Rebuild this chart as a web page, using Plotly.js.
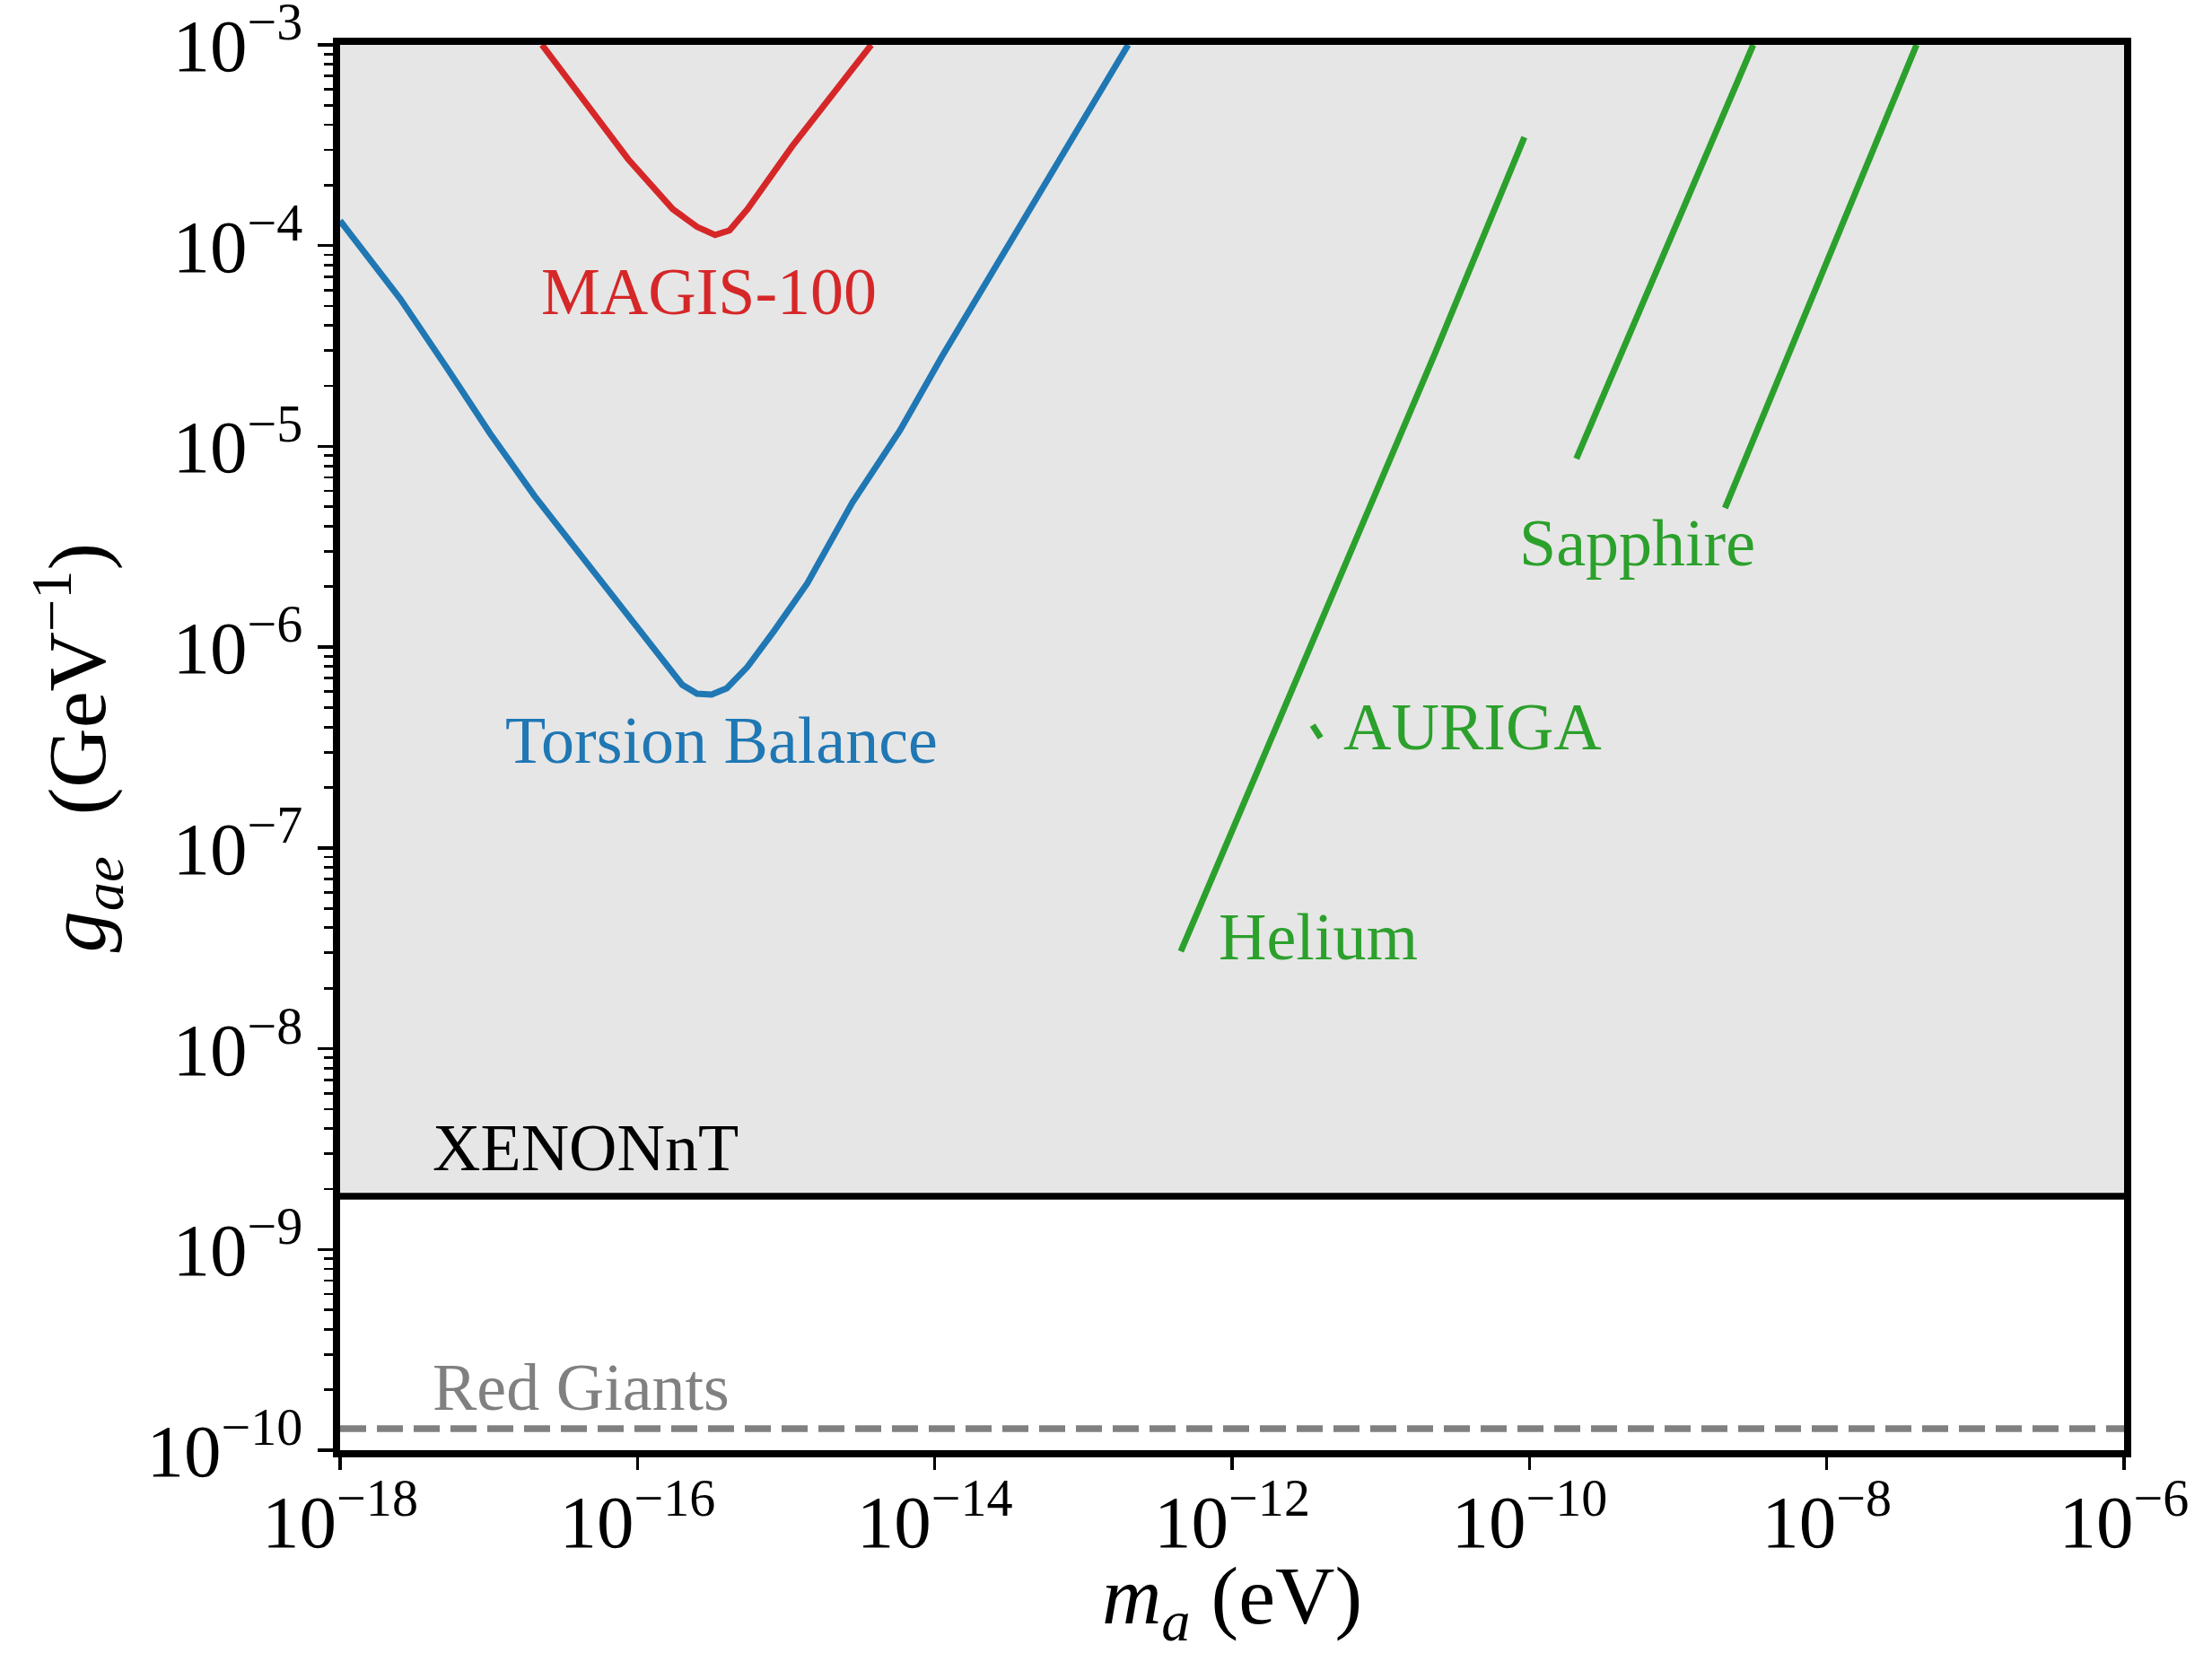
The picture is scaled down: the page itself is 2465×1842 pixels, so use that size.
<!DOCTYPE html>
<html>
<head>
<meta charset="utf-8">
<script src="https://cdn.plot.ly/plotly-3.0.1.min.js"></script>
<style>html,body{margin:0;padding:0;background:#fff;}#chart{width:2465px;height:1842px;}</style>
</head>
<body>
<div id="chart"></div>
<script>
// ---- data ----
const xenonG = 1.84e-9;          // XENONnT bound (GeV^-1)
const redGiantG = 1.28e-10;      // Red Giants bound (GeV^-1)
const xRange = [1e-18, 1e-6];
const yTop = 1e-3;

const tbMass = [1e-18, 2.54e-18, 5.08e-18, 1.02e-17, 2.04e-17, 4.51e-17, 8.65e-17, 2.0e-16, 2.52e-16, 3.15e-16, 3.99e-16, 5.5e-16, 8.34e-16, 1.39e-15, 2.79e-15, 5.83e-15, 1.12e-14, 5.69e-14, 2.0e-13];
const tbG    = [1.33e-4, 5.43e-5, 2.54e-5, 1.16e-5, 5.64e-6, 2.64e-6, 1.42e-6, 6.5e-7, 5.86e-7, 5.81e-7, 6.24e-7, 7.98e-7, 1.21e-6, 2.08e-6, 5.25e-6, 1.20e-5, 2.81e-5, 2.14e-4, 1.0e-3];

const magisMass = [2.28e-17, 4.32e-17, 8.65e-17, 1.73e-16, 2.52e-16, 3.33e-16, 4.16e-16, 5.5e-16, 1.10e-15, 3.74e-15];
const magisG    = [1.0e-3, 5.40e-4, 2.70e-4, 1.52e-4, 1.24e-4, 1.13e-4, 1.19e-4, 1.52e-4, 3.13e-4, 1.0e-3];

const heliumMass = [4.52e-13, 2.33e-11, 9.25e-11];
const heliumG    = [3.05e-8, 2.93e-5, 3.47e-4];

const sapphire1Mass = [2.07e-10, 3.20e-9];
const sapphire1G    = [8.69e-6, 1.0e-3];
const sapphire2Mass = [2.07e-9, 4.02e-8];
const sapphire2G    = [4.93e-6, 1.0e-3];

const aurigaMass = [3.48e-12, 3.94e-12];
const aurigaG    = [4.09e-7, 3.54e-7];

const xTickVals = [1e-18, 1e-16, 1e-14, 1e-12, 1e-10, 1e-8, 1e-6];
const xTickText = ['10<sup>−18</sup>', '10<sup>−16</sup>', '10<sup>−14</sup>', '10<sup>−12</sup>', '10<sup>−10</sup>', '10<sup>−8</sup>', '10<sup>−6</sup>'];
const yTickVals = [1e-10, 1e-9, 1e-8, 1e-7, 1e-6, 1e-5, 1e-4, 1e-3];
const yTickText = ['10<sup>−10</sup>', '10<sup>−9</sup>', '10<sup>−8</sup>', '10<sup>−7</sup>', '10<sup>−6</sup>', '10<sup>−5</sup>', '10<sup>−4</sup>', '10<sup>−3</sup>'];
const yMinorVals = [];
for (let e = -10; e <= -4; e++) for (let d = 2; d <= 9; d++) yMinorVals.push(d * Math.pow(10, e));

// ---- styling ----
const FONT = 'Liberation Serif, Times New Roman, serif';
const BLUE = '#1f77b4', RED = '#d62728', GREEN = '#2ca02c', GRAY = '#808080';
const LW = 7;

const traces = [
  {x: [xRange[0], xRange[1], xRange[1], xRange[0], xRange[0]], y: [xenonG, xenonG, yTop, yTop, xenonG],
   mode: 'lines', fill: 'toself', fillcolor: '#e6e6e6', line: {width: 0, color: 'rgba(0,0,0,0)'}, hoverinfo: 'skip'},
  {x: xRange, y: [xenonG, xenonG], mode: 'lines', line: {color: 'black', width: 7.5}},
  {x: xRange, y: [redGiantG, redGiantG], mode: 'lines', line: {color: GRAY, width: 7.5, dash: '29px,12px'}},
  {x: tbMass, y: tbG, mode: 'lines', line: {color: BLUE, width: LW}},
  {x: magisMass, y: magisG, mode: 'lines', line: {color: RED, width: LW}},
  {x: heliumMass, y: heliumG, mode: 'lines', line: {color: GREEN, width: LW}},
  {x: sapphire1Mass, y: sapphire1G, mode: 'lines', line: {color: GREEN, width: LW}},
  {x: sapphire2Mass, y: sapphire2G, mode: 'lines', line: {color: GREEN, width: LW}},
  {x: aurigaMass, y: aurigaG, mode: 'lines', line: {color: GREEN, width: LW}}
];

function label(text, lx, ly, color) {
  return {text: text, x: lx, y: ly, xref: 'x', yref: 'y', xanchor: 'left', yanchor: 'middle',
          showarrow: false, font: {family: FONT, size: 74, color: color}};
}

const layout = {
  width: 2465, height: 1842,
  margin: {l: 379, r: 98, t: 50, b: 226, pad: 0},
  paper_bgcolor: 'white', plot_bgcolor: 'white',
  showlegend: false,
  font: {family: FONT, color: 'black'},
  xaxis: {
    type: 'log', range: [-18.00001, -5.99999], autorange: false,
    showgrid: false, zeroline: false,
    showline: true, linecolor: 'black', linewidth: 8, mirror: true,
    ticks: 'outside', ticklen: 14, tickwidth: 3.5, tickcolor: 'black',
    tickmode: 'array', tickvals: xTickVals, ticktext: xTickText,
    ticklabelstandoff: -14, ticklabeloverflow: 'allow',
    tickfont: {family: FONT, size: 83, color: 'black'},
    title: {text: '<i>m</i><sub><i>a</i></sub> (eV)', font: {family: FONT, size: 92, color: 'black'}, standoff: 26}
  },
  yaxis: {
    type: 'log', range: [-10.00001, -2.99999], autorange: false,
    showgrid: false, zeroline: false,
    showline: true, linecolor: 'black', linewidth: 8, mirror: true,
    ticks: 'outside', ticklen: 17, tickwidth: 3.5, tickcolor: 'black',
    tickmode: 'array', tickvals: yTickVals, ticktext: yTickText,
    ticklabeloverflow: 'allow',
    tickfont: {family: FONT, size: 83, color: 'black'},
    minor: {tickmode: 'array', tickvals: yMinorVals, ticks: 'outside', ticklen: 10, tickwidth: 2.8, tickcolor: 'black', showgrid: false},
    title: {text: '<i>g</i><sub><i>ae</i></sub>  (GeV<sup>−1</sup>)', font: {family: FONT, size: 92, color: 'black'}, standoff: 18}
  },
  annotations: [
    label('MAGIS-100', -16.66, -4.229, RED),
    label('Torsion Balance', -16.902, -6.464, BLUE),
    label('Sapphire', -10.079, -5.481, GREEN),
    label('AURIGA', -11.265, -6.397, GREEN),
    label('Helium', -12.104, -7.443, GREEN),
    label('XENONnT', -17.39, -8.494, 'black'),
    label('Red Giants', -17.39, -9.688, GRAY)
  ]
};

Plotly.newPlot('chart', traces, layout, {staticPlot: true, displayModeBar: false});
</script>
</body>
</html>
